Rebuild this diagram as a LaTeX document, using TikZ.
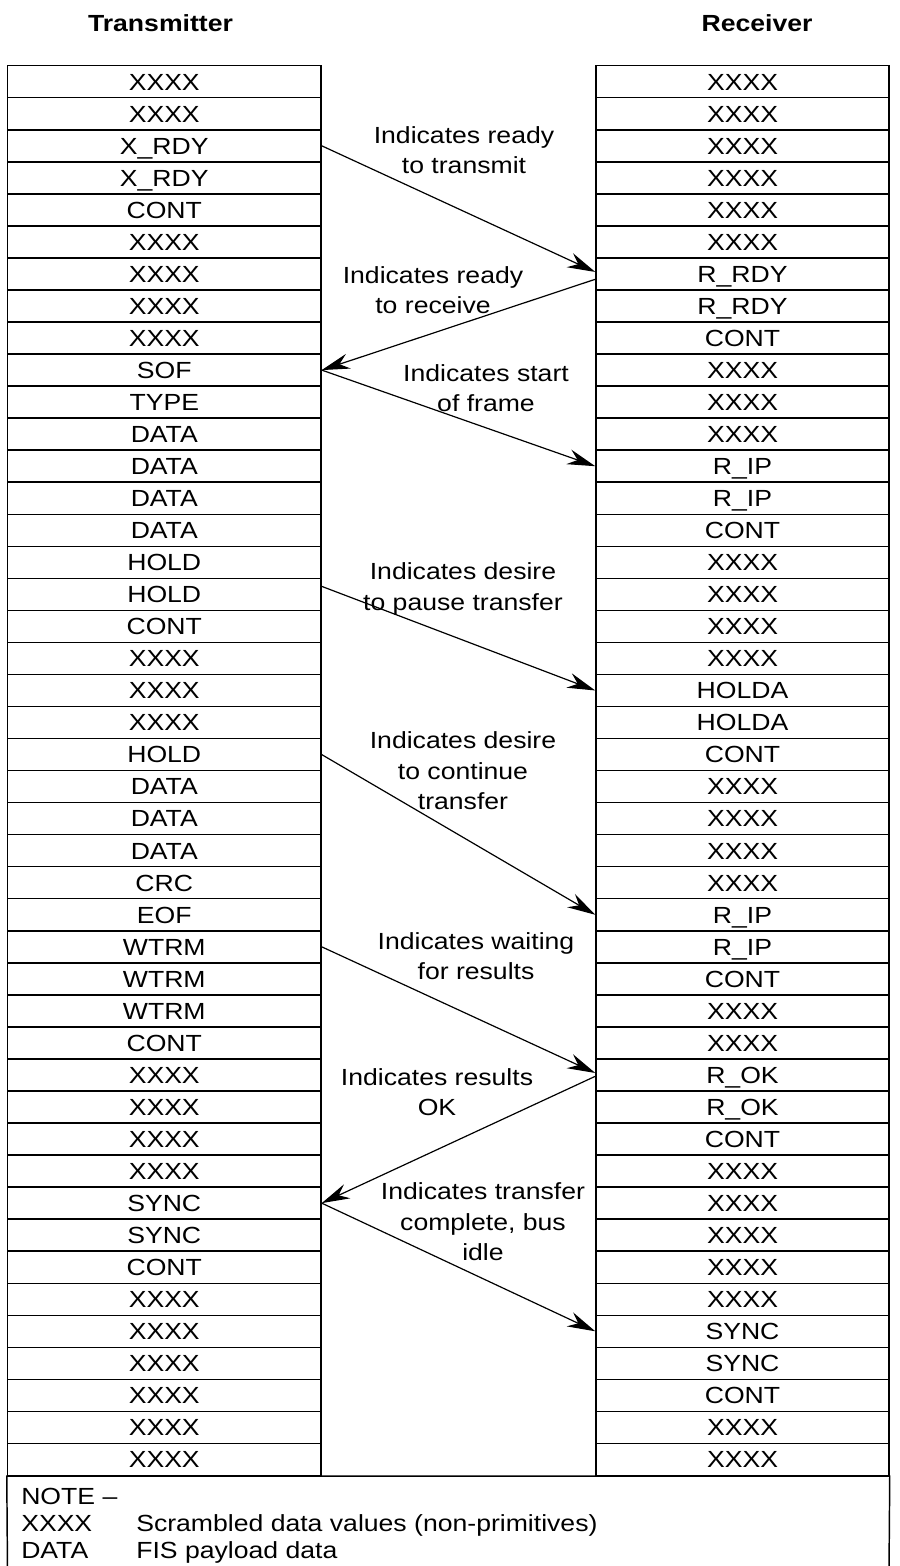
\documentclass[tikz,border=0pt]{standalone}
\usepackage{fontspec}
\setmainfont{Liberation Sans}[FakeStretch=1.14]
\usetikzlibrary{arrows.meta}
\begin{document}
\begin{tikzpicture}[x=0.75pt,y=-0.75pt,
 every node/.style={font=\fontsize{17.5pt}{22.8pt}\selectfont},
 lcell/.style={draw,line width=1.1pt,minimum width=235.1pt,minimum height=24.03pt,inner sep=0pt,text height=12.5pt,text depth=0pt},
 rcell/.style={lcell,minimum width=219.75pt},
 conn/.style={line width=0.9pt,-{Stealth[length=21pt,width=11.5pt,inset=7pt]}},
 lab/.style={align=center,inner sep=0pt},
 head/.style={font=\fontsize{17.5pt}{20pt}\selectfont\bfseries},
 notetext/.style={anchor=base west,inner sep=0pt}]
\useasboundingbox (0,0) rectangle (899,1566);
\node[head] (th) at (160.5,23) {Transmitter};
\node[head] (rh) at (757,23) {Receiver};
\foreach \t [count=\i] in {XXXX,XXXX,X\_RDY,X\_RDY,CONT,XXXX,XXXX,XXXX,XXXX,SOF,TYPE,DATA,DATA,DATA,DATA,HOLD,HOLD,CONT,XXXX,XXXX,XXXX,HOLD,DATA,DATA,DATA,CRC,EOF,WTRM,WTRM,WTRM,CONT,XXXX,XXXX,XXXX,XXXX,SYNC,SYNC,CONT,XXXX,XXXX,XXXX,XXXX,XXXX,XXXX}
  \node[lcell] (L\i) at (164.25,{65.7+(\i-0.5)*32.04}) {\t};
\foreach \t [count=\i] in {XXXX,XXXX,XXXX,XXXX,XXXX,XXXX,R\_RDY,R\_RDY,CONT,XXXX,XXXX,XXXX,R\_IP,R\_IP,CONT,XXXX,XXXX,XXXX,XXXX,HOLDA,HOLDA,CONT,XXXX,XXXX,XXXX,XXXX,R\_IP,R\_IP,CONT,XXXX,XXXX,R\_OK,R\_OK,CONT,XXXX,XXXX,XXXX,XXXX,XXXX,SYNC,SYNC,CONT,XXXX,XXXX}
  \node[rcell] (R\i) at (742.5,{65.7+(\i-0.5)*32.04}) {\t};
% note box
\coordinate (nbl) at (7.5,1572);
\coordinate (nbr) at (889,1572);
\draw[line width=1.1pt] (nbl) -- (L44.south west) -- (R44.south east) -- (nbr);
\node[notetext] (n0) at (21,1504) {NOTE –};
\node[notetext] (n1) at (21,1531) {XXXX};
\node[notetext] (n1t) at (136,1531) {Scrambled data values (non-primitives)};
\node[notetext] (n2) at (21,1558) {DATA};
\node[notetext] (n2t) at (136,1558) {FIS payload data};
% labels
\node[lab] (lab1) at (464,150) {Indicates ready\\to transmit};
\node[lab] (lab2) at (433,290) {Indicates ready\\to receive};
\node[lab] (lab3) at (486,388) {Indicates start\\of frame};
\node[lab] (lab4) at (463,589) {Indicates desire\\to pause transfer};
\node[lab] (lab5) at (463,771) {Indicates desire\\to continue\\transfer};
\node[lab] (lab6) at (476,956) {Indicates waiting\\for results};
\node[lab] (lab7) at (437,1092) {Indicates results\\OK};
\node[lab] (lab8) at (483,1222) {Indicates transfer\\complete, bus\\idle};
% arrows
\draw[conn] (L3.east) -- ([yshift=1.5pt]R7.west);
\draw[conn] ([yshift=-4pt]R7.west) -- (L10.east);
\draw[conn] (L10.east) -- (R13.west);
\draw[conn] ([yshift=6pt]L17.east) -- (R20.west);
\draw[conn] (L22.east) -- (R27.west);
\draw[conn] (L28.east) -- ([yshift=1.5pt]R32.west);
\draw[conn] ([yshift=-1pt]R32.west) -- (L36.east);
\draw[conn] (L36.east) -- (R40.west);
\end{tikzpicture}
\end{document}
